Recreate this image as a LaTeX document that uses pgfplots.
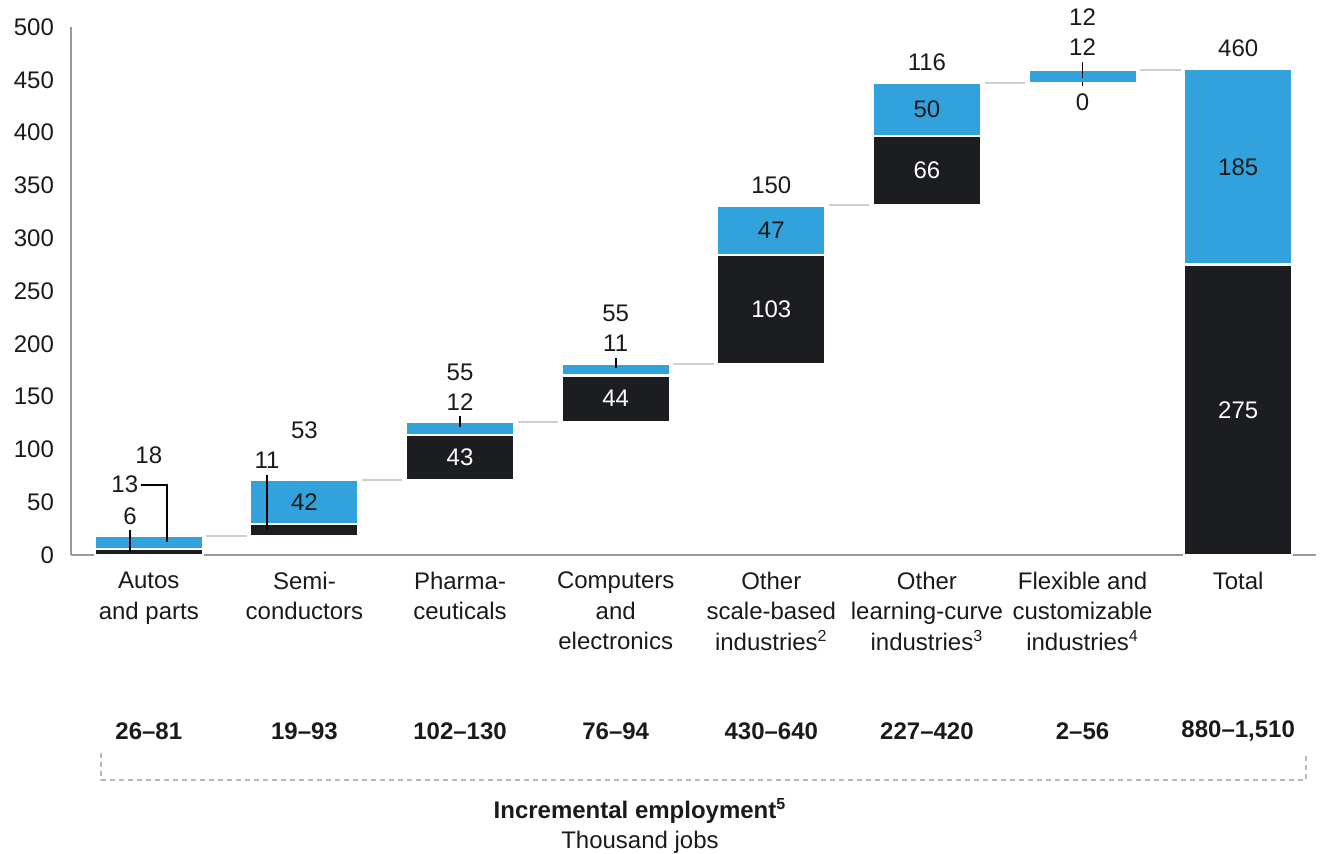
\documentclass[border=0pt]{standalone}
\usepackage{pgfplots}
\pgfplotsset{compat=1.18}
\usepackage{fontspec}
\setmainfont{Liberation Sans}
\definecolor{mblue}{HTML}{31A2DB}
\definecolor{mblack}{HTML}{1B1D20}
\definecolor{axgray}{HTML}{9A9A9A}
\definecolor{congray}{HTML}{CFCFCF}
\definecolor{txt}{HTML}{1A1A1A}
\begin{document}
\begin{tikzpicture}[font=\fontsize{12}{15.25}\selectfont, text=txt]
\pgfplotsset{common/.style={scale only axis, width=622.5pt, height=264pt,
  xmin=-0.5, xmax=7.5, ymin=0, ymax=500, anchor=south west, at={(0pt,0pt)}, clip=false}}
\begin{axis}[common, ybar stacked, bar width=0.695,
  axis x line*=bottom, axis y line*=left,
  axis line style={-, axgray, line width=0.7pt},
  ytick={0,50,...,500}, xtick={0,...,7}, major tick length=0pt,
  /pgf/number format/assume math mode=true,
  yticklabel style={xshift=-5pt, text=txt},
  xticklabels={Autos\\and parts, Semi-\\conductors, Pharma-\\ceuticals, Computers\\and\\electronics,
    Other\\scale-based\\industries\textsuperscript{2}, Other\\learning-curve\\industries\textsuperscript{3},
    Flexible and\\customizable\\industries\textsuperscript{4}, Total},
  xticklabel style={align=center, anchor=north, yshift=-5pt, text=txt},
]
% invisible base
\addplot[draw=none, fill=none] coordinates {(0,0) (1,18) (2,71) (3,126) (4,181) (5,331) (6,447) (7,0)};
% black segment
\addplot[fill=mblack, draw=white, line width=1.1pt] coordinates {(0,6) (1,11) (2,43) (3,44) (4,103) (5,66) (6,0) (7,275)};
% blue segment
\addplot[fill=mblue, draw=white, line width=1.1pt] coordinates {(0,12) (1,42) (2,12) (3,11) (4,47) (5,50) (6,12) (7,185)};
\end{axis}
\begin{axis}[common, hide axis]
% connectors
\addplot[congray, line width=1pt] coordinates {(0.37,18) (0.63,18)};
\addplot[congray, line width=1pt] coordinates {(1.37,71) (1.63,71)};
\addplot[congray, line width=1pt] coordinates {(2.37,126) (2.63,126)};
\addplot[congray, line width=1pt] coordinates {(3.37,181) (3.63,181)};
\addplot[congray, line width=1pt] coordinates {(4.37,331) (4.63,331)};
\addplot[congray, line width=1pt] coordinates {(5.37,447) (5.63,447)};
\addplot[congray, line width=1pt] coordinates {(6.37,459) (6.63,459)};
% leader lines
\addplot[black, line width=0.9pt] coordinates {(-0.122,24) (-0.122,3)};
\addplot[black, line width=0.9pt] coordinates {(-0.05,66.5) (0.116,66.5) (0.116,12.5)};
\addplot[black, line width=0.9pt] coordinates {(0.76,76) (0.76,24.5)};
\addplot[black, line width=0.9pt] coordinates {(2,131.5) (2,121)};
\addplot[black, line width=0.9pt] coordinates {(3,186.5) (3,177)};
\addplot[black, line width=0.9pt] coordinates {(6,467) (6,452)};
\addplot[black, line width=0.9pt] coordinates {(6,448) (6,444.5)};
% labels above
\node at (axis cs:0,94.7) {18};
\node at (axis cs:-0.154,67) {13};
\node at (axis cs:-0.12,37) {6};
\node at (axis cs:1,118) {53};
\node at (axis cs:0.76,90) {11};
\node at (axis cs:2,173) {55};
\node at (axis cs:2,145) {12};
\node at (axis cs:3,229) {55};
\node at (axis cs:3,200.8) {11};
\node at (axis cs:4,350.4) {150};
\node at (axis cs:5,466.9) {116};
\node at (axis cs:6,509.5) {12};
\node at (axis cs:6,481) {12};
\node at (axis cs:6,429) {0};
\node at (axis cs:7,480) {460};
% labels inside
\node at (axis cs:1,50) {42};
\node[text=white] at (axis cs:2,92.5) {43};
\node[text=white] at (axis cs:3,148) {44};
\node at (axis cs:4,307.5) {47};
\node[text=white] at (axis cs:4,232.5) {103};
\node at (axis cs:5,422) {50};
\node[text=white] at (axis cs:5,364) {66};
\node at (axis cs:7,367.5) {185};
\node[text=white] at (axis cs:7,137.5) {275};
% range labels
\node[font=\fontsize{12}{14}\selectfont\bfseries] at (axis cs:0,0) [yshift=-88pt] {26--81};
\node[font=\fontsize{12}{14}\selectfont\bfseries] at (axis cs:1,0) [yshift=-88pt] {19--93};
\node[font=\fontsize{12}{14}\selectfont\bfseries] at (axis cs:2,0) [yshift=-88pt] {102--130};
\node[font=\fontsize{12}{14}\selectfont\bfseries] at (axis cs:3,0) [yshift=-88pt] {76--94};
\node[font=\fontsize{12}{14}\selectfont\bfseries] at (axis cs:4,0) [yshift=-88pt] {430--640};
\node[font=\fontsize{12}{14}\selectfont\bfseries] at (axis cs:5,0) [yshift=-88pt] {227--420};
\node[font=\fontsize{12}{14}\selectfont\bfseries] at (axis cs:6,0) [yshift=-88pt] {2--56};
\node[font=\fontsize{12}{14}\selectfont\bfseries] at (axis cs:7,0) [yshift=-88pt] {880--1,510};
\end{axis}
\draw[axgray!70, line width=0.6pt, dash pattern=on 2.5pt off 2pt] (15pt,-99pt) -- (15pt,-112.5pt) -- (617.5pt,-112.5pt) -- (617.5pt,-99pt);
\node[font=\fontsize{12}{14}\selectfont\bfseries] at (284.5pt,-128pt) {Incremental employment\textsuperscript{5}};
\node at (284.5pt,-143.5pt) {Thousand jobs};
\pgfresetboundingbox
\useasboundingbox (-35.5pt,-149.5pt) rectangle (625.5pt,277.5pt);
\end{tikzpicture}
\end{document}
